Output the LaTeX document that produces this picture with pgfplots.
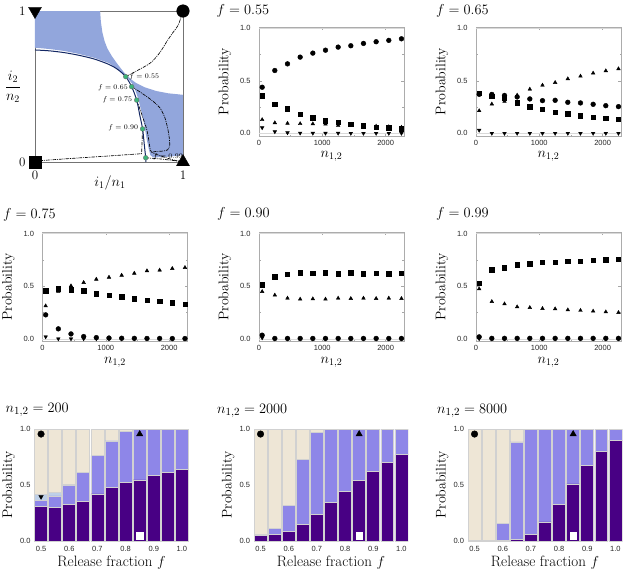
\documentclass[border=0pt]{standalone}
\usepackage{fontspec}
\setsansfont{Liberation Sans}
\usepackage{pgfplots}
\usepackage{pgfplotstable}
\pgfplotsset{compat=1.18}
\definecolor{cSq}{RGB}{72,0,132}
\definecolor{cTri}{RGB}{142,134,232}
\definecolor{cDtri}{RGB}{190,208,232}
\definecolor{cCirc}{RGB}{238,230,214}
\definecolor{cBlue}{RGB}{146,166,220}
\definecolor{cNavy}{RGB}{20,40,100}
\definecolor{cGreen}{RGB}{60,180,120}

\pgfplotsset{
  /pgf/number format/assume math mode=true,
  fpanel/.style={
    scale only axis, width=145pt, height=109pt, anchor=north west,
    xmin=0, xmax=2290, ymin=-0.025, ymax=1.01,
    xtick={0,1000,2000}, minor xtick={500,1500},
    ytick={0,0.5,1}, minor ytick={0.25,0.75},
    tick align=inside, major tick length=2.5pt, minor tick length=1.5pt,
    tick style={gray!70, line width=0.4pt},
    axis line style={gray!65, line width=0.6pt},
    tick label style={font=\sffamily\fontsize{7.5}{8}\selectfont, text=black!85},
    xticklabel style={/pgf/number format/1000 sep={}, yshift=-0.5pt},
    yticklabel style={/pgf/number format/fixed, /pgf/number format/fixed zerofill, /pgf/number format/precision=1, xshift=-5pt},
    ylabel={Probability}, ylabel style={font=\fontsize{14}{16}\selectfont, at={(axis description cs:-0.235,0.5)}, anchor=center},
    xlabel={$n_{1,2}$}, xlabel style={font=\fontsize{14}{16}\selectfont, at={(axis description cs:0.5,-0.19)}, anchor=center},
    clip=false,
  },
  barpanel/.style={
    scale only axis, width=155pt, height=112pt, anchor=north west,
    xmin=0.475, xmax=1.025, ymin=0, ymax=1,
    ybar stacked, bar width=0.046,
    xtick={0.5,0.6,0.7,0.8,0.9,1.0}, ytick={0,0.5,1},
    major tick length=0pt, axis line style={draw=none},
    tick label style={font=\sffamily\fontsize{7.5}{8}\selectfont, text=black!85,
      /pgf/number format/fixed, /pgf/number format/fixed zerofill, /pgf/number format/precision=1},
    xticklabel style={yshift=-2pt},
    ylabel={Probability}, ylabel style={font=\fontsize{14}{16}\selectfont, at={(axis description cs:-0.163,0.5)}, anchor=center},
    xlabel={Release fraction $f$}, xlabel style={font=\fontsize{15}{17}\selectfont, at={(axis description cs:0.5,-0.194)}, anchor=center},
  },
  markpanel/.style={
    scale only axis, width=155pt, height=112pt, anchor=north west,
    xmin=0.475, xmax=1.025, ymin=0, ymax=1, hide axis, clip=false,
  },
}

\newcommand{\fpoints}[1]{%
  \addplot[gray!30, line width=0.6pt, forget plot] coordinates {(0,0) (2290,0)};
  \addplot[gray!30, line width=0.6pt, forget plot] coordinates {(0,1) (2290,1)};
  \addplot[only marks, black, mark=triangle*, mark size=2.1pt, mark options={rotate=180}] table[x=x,y=dtri]{#1};
  \addplot[only marks, black, mark=triangle*, mark size=2.1pt] table[x=x,y=tri]{#1};
  \addplot[only marks, black, mark=square*, mark size=2.2pt] table[x=x,y=sq]{#1};
  \addplot[only marks, black, mark=*, mark size=2.4pt] table[x=x,y=circ]{#1};
}
\newcommand{\bars}[1]{%
  \addplot[fill=cSq, draw=black!18, line width=0.7pt] table[x=f,y=sq]{#1};
  \addplot[fill=cTri, draw=black!18, line width=0.7pt] table[x=f,y=tri]{#1};
  \addplot[fill=cDtri, draw=black!18, line width=0.7pt] table[x=f,y=dtri]{#1};
  \addplot[fill=cCirc, draw=black!18, line width=0.7pt] table[x=f,y=circ]{#1};
}

% ---------- data: probabilities vs n_{1,2} ----------
\pgfplotstableread{
x circ sq tri dtri
50 0.438 0.359 0.130 0.054
250 0.597 0.276 0.100 0.016
450 0.660 0.235 0.095 0.006
650 0.724 0.181 0.092 0.003
850 0.762 0.149 0.090 0.002
1050 0.790 0.121 0.088 0.002
1250 0.819 0.105 0.075 0.002
1450 0.832 0.089 0.078 0.001
1650 0.854 0.073 0.072 0.001
1850 0.870 0.060 0.068 0.001
2050 0.883 0.054 0.063 0.001
2250 0.898 0.044 0.058 0.001
}\fA
\pgfplotstableread{
x circ sq tri dtri
50 0.371 0.384 0.215 0.030
250 0.370 0.352 0.278 0.001
450 0.360 0.336 0.304 0.001
650 0.346 0.292 0.362 0.001
850 0.327 0.254 0.419 0.001
1050 0.311 0.232 0.457 0.001
1250 0.314 0.203 0.483 0.001
1450 0.295 0.187 0.518 0.001
1650 0.289 0.168 0.543 0.001
1850 0.276 0.152 0.572 0.001
2050 0.263 0.143 0.594 0.001
2250 0.254 0.133 0.613 0.001
}\fB
\pgfplotstableread{
x circ sq tri dtri
50 0.228 0.459 0.313 0.020
250 0.095 0.475 0.450 0.001
450 0.047 0.465 0.503 0.001
650 0.022 0.459 0.535 0.001
850 0.012 0.430 0.566 0.001
1050 0.008 0.415 0.585 0.001
1250 0.006 0.400 0.604 0.001
1450 0.005 0.383 0.623 0.001
1650 0.004 0.367 0.646 0.001
1850 0.004 0.358 0.652 0.001
2050 0.003 0.345 0.668 0.001
2250 0.003 0.332 0.677 0.001
}\fC
\pgfplotstableread{
x circ sq tri dtri
50 0.035 0.513 0.449 0.010
250 0.004 0.589 0.415 0.001
450 0.004 0.614 0.386 0.001
650 0.004 0.630 0.377 0.001
850 0.004 0.623 0.380 0.001
1050 0.004 0.630 0.377 0.001
1250 0.004 0.617 0.386 0.001
1450 0.004 0.627 0.383 0.001
1650 0.004 0.620 0.386 0.001
1850 0.004 0.623 0.383 0.001
2050 0.004 0.620 0.386 0.001
2250 0.004 0.623 0.383 0.001
}\fD
\pgfplotstableread{
x circ sq tri dtri
50 0.019 0.530 0.475 0.002
250 0.005 0.655 0.354 0.001
450 0.005 0.677 0.332 0.001
650 0.005 0.703 0.304 0.001
850 0.005 0.715 0.297 0.001
1050 0.005 0.728 0.288 0.001
1250 0.005 0.730 0.285 0.001
1450 0.005 0.737 0.275 0.001
1650 0.005 0.740 0.270 0.001
1850 0.005 0.747 0.263 0.001
2050 0.005 0.753 0.256 0.001
2250 0.005 0.756 0.250 0.001
}\fE

% ---------- data: stacked bars vs release fraction ----------
\pgfplotstableread{
f sq tri dtri circ
0.50 0.306 0.059 0.050 0.585
0.55 0.303 0.100 0.030 0.567
0.60 0.330 0.170 0.007 0.493
0.65 0.353 0.258 0.004 0.385
0.70 0.420 0.343 0.002 0.235
0.75 0.475 0.418 0.001 0.106
0.80 0.522 0.454 0.000 0.024
0.85 0.546 0.454 0.000 0.000
0.90 0.585 0.415 0.000 0.000
0.95 0.614 0.386 0.000 0.000
1.00 0.638 0.362 0.000 0.000
}\bA
\pgfplotstableread{
f sq tri dtri circ
0.50 0.053 0.007 0.000 0.940
0.55 0.059 0.056 0.000 0.885
0.60 0.088 0.232 0.000 0.680
0.65 0.147 0.583 0.000 0.270
0.70 0.236 0.734 0.000 0.030
0.75 0.345 0.655 0.000 0.000
0.80 0.440 0.560 0.000 0.000
0.85 0.540 0.460 0.000 0.000
0.90 0.620 0.380 0.000 0.000
0.95 0.700 0.300 0.000 0.000
1.00 0.770 0.230 0.000 0.000
}\bB
\pgfplotstableread{
f sq tri dtri circ
0.50 0.003 0.002 0.000 0.995
0.55 0.005 0.002 0.000 0.993
0.60 0.005 0.155 0.000 0.840
0.65 0.015 0.870 0.000 0.115
0.70 0.060 0.940 0.000 0.000
0.75 0.170 0.830 0.000 0.000
0.80 0.330 0.670 0.000 0.000
0.85 0.510 0.490 0.000 0.000
0.90 0.675 0.325 0.000 0.000
0.95 0.800 0.200 0.000 0.000
1.00 0.900 0.100 0.000 0.000
}\bC

\begin{document}
\begin{tikzpicture}
\useasboundingbox (0,0) rectangle (625pt,-573pt);

% ================= Panel A: phase diagram =================
\begin{axis}[at={(35pt,-11pt)}, anchor=north west, scale only axis, width=148pt, height=151pt,
  xmin=0, xmax=1, ymin=0, ymax=1, xtick={0,1}, ytick={0,1}, major tick length=0pt,
  axis line style={black!55, line width=0.9pt}, clip=false,
  tick label style={font=\fontsize{13}{14}\selectfont},
  yticklabel style={xshift=-6pt},
  xticklabel style={yshift=-5pt}]
\addplot[fill=cBlue, draw=none] coordinates {
(0,0.757) (0,1) (0.44,1) (0.445,0.93) (0.455,0.86) (0.47,0.80) (0.49,0.75) (0.52,0.70)
(0.56,0.645) (0.60,0.595) (0.64,0.555) (0.68,0.525) (0.74,0.495) (0.82,0.47) (0.90,0.455)
(1,0.445) (1,0.045) (0.9,0.035) (0.8,0.03) (0.78,0.045) (0.77,0.08) (0.755,0.15) (0.74,0.24)
(0.72,0.33) (0.70,0.41) (0.68,0.47) (0.655,0.52) (0.62,0.565) (0.58,0.60) (0.5,0.655)
(0.4,0.69) (0.3,0.715) (0.2,0.735) (0.1,0.748) (0,0.757)};
% trajectories
\addplot[black, line width=0.65pt, smooth, tension=0.5, dash pattern=on 3.5pt off 1pt on 1pt off 1pt] coordinates {
(0.613,0.565) (0.68,0.60) (0.777,0.654) (0.84,0.72) (0.89,0.797) (0.93,0.855) (0.968,0.907) (1,1)};
\addplot[black, line width=0.65pt, smooth, tension=0.5, dash pattern=on 3.5pt off 1pt on 1pt off 1pt] coordinates {
(0.653,0.499) (0.70,0.47) (0.754,0.434) (0.80,0.40) (0.843,0.36) (0.875,0.30) (0.895,0.23) (0.906,0.17) (0.91,0.11) (0.895,0.08) (0.86,0.072) (0.82,0.07) (0.79,0.065)};
\addplot[black, line width=0.65pt, smooth, tension=0.5, dash pattern=on 3.5pt off 1pt on 1pt off 1pt] coordinates {
(0.687,0.41) (0.709,0.35) (0.73,0.29) (0.754,0.22) (0.768,0.15) (0.776,0.10) (0.787,0.066) (0.85,0.04) (0.93,0.015) (1,0)};
\addplot[black, line width=0.65pt, dash pattern=on 3.5pt off 1pt on 1pt off 1pt] coordinates {
(0.727,0.219) (0.724,0.15) (0.722,0.09) (0.72,0.055) (0.5,0.04) (0.25,0.024) (0.02,0.008) (0,0)};
\addplot[black, line width=0.65pt, dash pattern=on 3.5pt off 1pt on 1pt off 1pt] coordinates {
(0.748,0.028) (0.85,0.02) (0.95,0.008) (1,0)};
% separatrix
\addplot[cNavy, line width=1pt, smooth, tension=0.5] coordinates {
(0,0.742) (0.1,0.736) (0.2,0.724) (0.3,0.706) (0.4,0.682) (0.5,0.646) (0.56,0.612) (0.613,0.565)
(0.653,0.499) (0.687,0.41) (0.708,0.31) (0.727,0.219) (0.738,0.12) (0.748,0.028) (0.75,0)};
% starting points
\addplot[only marks, mark=*, mark size=2.4pt, mark options={fill=cGreen, draw=black!60, line width=0.3pt}] coordinates {
(0.613,0.565) (0.653,0.499) (0.687,0.41) (0.727,0.219) (0.748,0.028)};
% attractors
\addplot[only marks, black, mark=*, mark size=6.3pt] coordinates {(1,1)};
\addplot[only marks, black, mark=square*, mark size=6pt] coordinates {(0,0)};
\addplot[only marks, black, mark=triangle*, mark size=7.5pt] coordinates {(1,0)};
\addplot[only marks, black, mark=triangle*, mark size=7.5pt, mark options={rotate=180}] coordinates {(0,1)};
\begin{scope}[font=\fontsize{7}{8}\selectfont]
\node[anchor=west, inner sep=1pt] at (axis cs:0.63,0.565) {$f=0.55$};
\node[anchor=east, inner sep=1pt] at (axis cs:0.635,0.495) {$f=0.65$};
\node[anchor=east, inner sep=1pt] at (axis cs:0.665,0.415) {$f=0.75$};
\node[anchor=east, inner sep=1pt] at (axis cs:0.705,0.225) {$f=0.90$};
\node[anchor=west, inner sep=1pt] at (axis cs:0.79,0.035) {$f=0.99$};
\end{scope}
\end{axis}
\node[font=\fontsize{14}{16}\selectfont] at (13pt,-87pt) {$\displaystyle\frac{i_2}{n_2}$};
\node[font=\fontsize{14.5}{16}\selectfont] at (110pt,-183pt) {$i_1/n_1$};

% ================= f panels =================
\node[anchor=base west, inner sep=0pt, font=\fontsize{15}{17}\selectfont] at (216.5pt,-14pt) {$f = 0.55$};
\begin{axis}[fpanel, at={(259pt,-27pt)}]
\fpoints{\fA}
\end{axis}

\node[anchor=base west, inner sep=0pt, font=\fontsize{15}{17}\selectfont] at (436pt,-14pt) {$f = 0.65$};
\begin{axis}[fpanel, at={(476pt,-27pt)}]
\fpoints{\fB}
\end{axis}

\node[anchor=base west, inner sep=0pt, font=\fontsize{15}{17}\selectfont] at (3pt,-218pt) {$f = 0.75$};
\begin{axis}[fpanel, at={(42.5pt,-232.5pt)}]
\fpoints{\fC}
\end{axis}

\node[anchor=base west, inner sep=0pt, font=\fontsize{15}{17}\selectfont] at (217pt,-217.5pt) {$f = 0.90$};
\begin{axis}[fpanel, at={(259pt,-232.5pt)}]
\fpoints{\fD}
\end{axis}

\node[anchor=base west, inner sep=0pt, font=\fontsize{15}{17}\selectfont] at (436pt,-217.5pt) {$f = 0.99$};
\begin{axis}[fpanel, at={(476pt,-232.5pt)}]
\fpoints{\fE}
\end{axis}

% ================= bar panels =================
\node[anchor=base west, inner sep=0pt, font=\fontsize{15}{17}\selectfont] at (5.5pt,-412.5pt) {$n_{1,2} = 200$};
\begin{axis}[barpanel, at={(34pt,-429pt)}]
\bars{\bA}
\end{axis}
\begin{axis}[markpanel, at={(34pt,-429pt)}]
\addplot[only marks, black, mark=*, mark size=3.3pt] coordinates {(0.5,0.955)};
\addplot[only marks, black, mark=triangle*, mark size=2.6pt, mark options={rotate=180}] coordinates {(0.5,0.395)};
\addplot[only marks, black, mark=triangle*, mark size=3.6pt] coordinates {(0.85,0.955)};
\addplot[only marks, mark=square*, mark size=3.3pt, mark options={fill=white, draw=white}] coordinates {(0.85,0.045)};
\end{axis}

\node[anchor=base west, inner sep=0pt, font=\fontsize{15}{17}\selectfont] at (217pt,-413pt) {$n_{1,2} = 2000$};
\begin{axis}[barpanel, at={(253.5pt,-429pt)}]
\bars{\bB}
\end{axis}
\begin{axis}[markpanel, at={(253.5pt,-429pt)}]
\addplot[only marks, black, mark=*, mark size=3.3pt] coordinates {(0.5,0.955)};
\addplot[only marks, black, mark=triangle*, mark size=3.6pt] coordinates {(0.85,0.955)};
\addplot[only marks, mark=square*, mark size=3.3pt, mark options={fill=white, draw=white}] coordinates {(0.85,0.045)};
\end{axis}

\node[anchor=base west, inner sep=0pt, font=\fontsize{15}{17}\selectfont] at (437pt,-413pt) {$n_{1,2} = 8000$};
\begin{axis}[barpanel, at={(467.5pt,-429pt)}]
\bars{\bC}
\end{axis}
\begin{axis}[markpanel, at={(467.5pt,-429pt)}]
\addplot[only marks, black, mark=*, mark size=3.3pt] coordinates {(0.5,0.955)};
\addplot[only marks, black, mark=triangle*, mark size=3.6pt] coordinates {(0.85,0.955)};
\addplot[only marks, mark=square*, mark size=3.3pt, mark options={fill=white, draw=white}] coordinates {(0.85,0.045)};
\end{axis}
\end{tikzpicture}
\end{document}
